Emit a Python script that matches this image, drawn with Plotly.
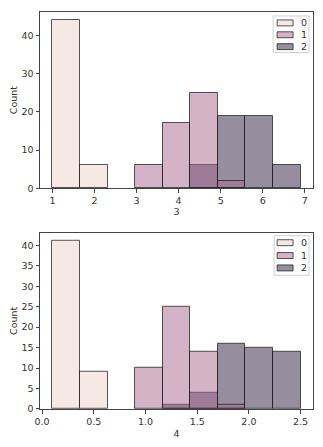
import numpy as np
import plotly.graph_objects as go

# ---- data ----
classes = ["0", "1", "2"]
# top histogram: column "3", 9 bins from 1.0 to 6.9
top_range = (1.0, 6.9)
top_counts = {
    "0": [44, 6, 0, 0, 0, 0, 0, 0, 0],
    "1": [0, 0, 0, 6, 17, 25, 2, 0, 0],
    "2": [0, 0, 0, 0, 0, 6, 19, 19, 6],
}

# bottom histogram: column "4", 9 bins from 0.1 to 2.5
bot_range = (0.1, 2.5)
bot_counts = {
    "0": [41, 9, 0, 0, 0, 0, 0, 0, 0],
    "1": [0, 0, 0, 10, 25, 14, 1, 0, 0],
    "2": [0, 0, 0, 0, 1, 4, 16, 15, 14],
}
n_bins = 9

top_xticks = [1, 2, 3, 4, 5, 6, 7]
top_yticks = [0, 10, 20, 30, 40]
bot_xticks = [0.0, 0.5, 1.0, 1.5, 2.0, 2.5]
bot_xticklabels = ["0.0", "0.5", "1.0", "1.5", "2.0", "2.5"]
bot_yticks = [0, 5, 10, 15, 20, 25, 30, 35, 40]

colors = {"0": "rgba(237,209,203,0.5)", "1": "rgba(170,103,143,0.5)", "2": "rgba(45,30,62,0.5)"}
line_col = "rgba(30,30,30,0.75)"

fig = go.Figure()

def add_hist(counts, rng, xa, ya):
    edges = np.linspace(rng[0], rng[1], n_bins + 1)
    centers = (edges[:-1] + edges[1:]) / 2
    width = edges[1] - edges[0]
    # draw last class first so lower classes lie on top (seaborn order)
    for c in reversed(classes):
        vals = np.array(counts[c], dtype=float)
        mask = vals > 0
        fig.add_trace(go.Bar(
            x=centers[mask], y=vals[mask], width=width,
            marker=dict(color=colors[c], line=dict(color=line_col, width=1)),
            xaxis=xa, yaxis=ya, showlegend=False, name=c,
        ))

add_hist(top_counts, top_range, "x", "y")
add_hist(bot_counts, bot_range, "x2", "y2")

W, H = 323, 447
ml, mr, mt, mb = 40, 9, 12, 34
pw, ph = W - ml - mr, H - mt - mb

def px2paper(x, y):
    return (x - ml) / pw, (H - mb - y) / ph

font = dict(family="DejaVu Sans", size=9.5, color="#333")
axis_common = dict(showline=True, linecolor="#444", linewidth=1, mirror=True,
                   ticks="outside", ticklen=3.5, tickcolor="#444", showgrid=False,
                   zeroline=False, tickfont=font)

top_dom = [1 - (190 - 12) / ph, 1]
bot_dom = [0, (413 - 235) / ph]

def pad(rng, m=0.05):
    d = rng[1] - rng[0]
    return [rng[0] - m * d, rng[1] + m * d]

top_ymax = max(max(v) for v in top_counts.values()) * 1.05
bot_ymax = max(max(v) for v in bot_counts.values()) * 1.05

fig.update_layout(
    width=W, height=H, margin=dict(l=ml, r=mr, t=mt, b=mb),
    paper_bgcolor="white", plot_bgcolor="white", barmode="overlay", bargap=0,
    font=font,
    xaxis=dict(domain=[0, 1], anchor="y", range=pad(top_range), tickvals=top_xticks,
               title=dict(text="3", font=font, standoff=2), **axis_common),
    yaxis=dict(domain=top_dom, anchor="x", range=[0, top_ymax], tickvals=top_yticks,
               title=dict(text="Count", font=font, standoff=2), **axis_common),
    xaxis2=dict(domain=[0, 1], anchor="y2", range=pad(bot_range), tickvals=bot_xticks,
                ticktext=bot_xticklabels,
                title=dict(text="4", font=font, standoff=4), **axis_common),
    yaxis2=dict(domain=bot_dom, anchor="x2", range=[0, bot_ymax], tickvals=bot_yticks,
                title=dict(text="Count", font=font, standoff=2), **axis_common),
)

# manual legends (matplotlib style)
def add_legend(box, item_ys):
    x0, y0, x1, y1 = box
    a, b = px2paper(x0, y0)
    c, d = px2paper(x1, y1)
    fig.add_shape(type="rect", xref="paper", yref="paper", x0=a, x1=c, y0=d, y1=b,
                  line=dict(color="#d0d0d0", width=1), fillcolor="rgba(255,255,255,0.8)")
    for cl, yy in zip(classes, item_ys):
        sa, sb = px2paper(278, yy - 3)
        sc, sd = px2paper(294, yy + 3)
        fig.add_shape(type="rect", xref="paper", yref="paper", x0=sa, x1=sc, y0=sd, y1=sb,
                      line=dict(color=line_col, width=1), fillcolor=colors[cl])
        tx, ty = px2paper(300, yy)
        fig.add_annotation(xref="paper", yref="paper", x=tx, y=ty, text=cl, showarrow=False,
                           xanchor="left", yanchor="middle", font=font)

add_legend((274, 16, 310, 53), [23, 35, 47])
add_legend((275, 238, 310, 278), [245, 258, 270.5])

fig.write_html("out.html")
